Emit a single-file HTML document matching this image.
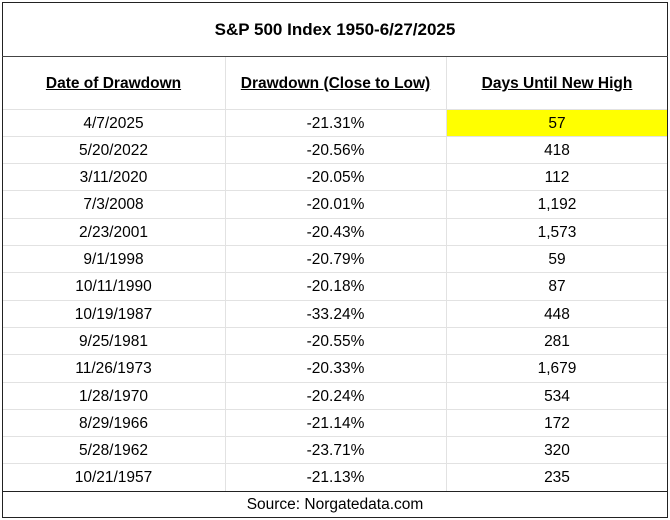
<!DOCTYPE html>
<html><head><style>
body{margin:0;width:670px;height:520px;background:#fff;font-family:"Liberation Sans",Arial,sans-serif;color:#000;position:relative;overflow:hidden}
.a{position:absolute}
.h{background:#e2e2e2}
.c{position:absolute;text-align:center;font-size:15.5px;line-height:27px}
.hd{font-weight:bold;text-decoration:underline;font-size:15.5px}
</style></head><body>
<div class="a" style="left:446px;top:109px;width:222px;height:28px;background:#ffff00"></div>
<div class="a h" style="left:225px;top:56px;width:1px;height:435px"></div>
<div class="a h" style="left:446px;top:56px;width:1px;height:435px"></div>
<div id="rows"></div>
<div class="a" style="left:2px;top:2px;width:664px;height:514px;border:1px solid #222"></div>
<div class="a" style="left:2px;top:56px;width:666px;height:1px;background:#444"></div>
<div class="a" style="left:2px;top:491px;width:666px;height:1px;background:#222"></div>
<div class="c" style="left:2px;top:16px;width:666px;font-weight:bold;font-size:17px">S&amp;P 500 Index 1950-6/27/2025</div>
<div class="c hd" style="left:2px;top:70px;width:223px">Date of Drawdown</div>
<div class="c hd" style="left:225px;top:70px;width:221px">Drawdown (Close to Low)</div>
<div class="c hd" style="left:446px;top:70px;width:222px">Days Until New High</div>
<div class="c" style="left:2px;top:491px;width:666px">Source: Norgatedata.com</div>
<script>
var d=[["4/7/2025","-21.31%","57"],["5/20/2022","-20.56%","418"],["3/11/2020","-20.05%","112"],["7/3/2008","-20.01%","1,192"],["2/23/2001","-20.43%","1,573"],["9/1/1998","-20.79%","59"],["10/11/1990","-20.18%","87"],["10/19/1987","-33.24%","448"],["9/25/1981","-20.55%","281"],["11/26/1973","-20.33%","1,679"],["1/28/1970","-20.24%","534"],["8/29/1966","-21.14%","172"],["5/28/1962","-23.71%","320"],["10/21/1957","-21.13%","235"]];
var h="",rh=27.3,t0=109.5;
for(var i=0;i<d.length;i++){var y=t0+i*rh;
h+='<div class="a h" style="left:2px;top:'+(Math.round(y)-1)+'px;width:666px;height:1px"></div>';
var xs=[[2,223],[225,221],[446,222]];
for(var j=0;j<3;j++)h+='<div class="c" style="left:'+xs[j][0]+'px;top:'+(y)+'px;width:'+xs[j][1]+'px">'+d[i][j]+'</div>';}
document.getElementById("rows").innerHTML=h;
</script>
</body></html>
